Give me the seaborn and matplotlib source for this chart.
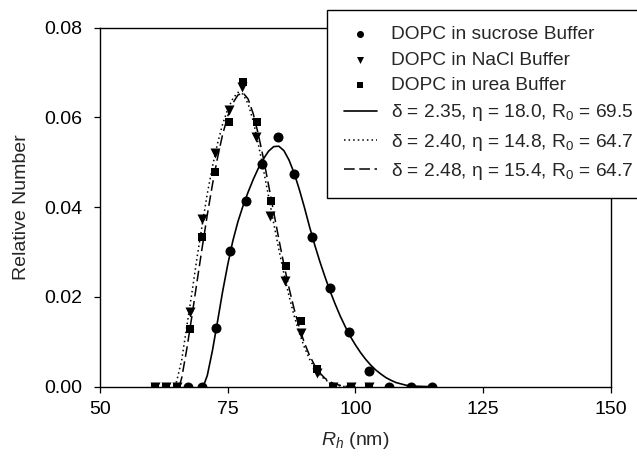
import matplotlib
matplotlib.use("Agg")
import matplotlib.pyplot as plt
from matplotlib.ticker import FormatStrFormatter
import seaborn as sns
import pandas as pd

#%%
# Measured points (R_h in nm, relative number)
x_sucrose = [67.3, 69.9, 72.7, 75.45, 78.5, 81.7, 84.8, 88.0, 91.5, 95.0, 98.7, 102.6, 106.6, 110.8, 115.0]
y_sucrose = [0, 0, 0.0131, 0.0302, 0.0414, 0.0496, 0.0556, 0.0474, 0.0333, 0.0219, 0.0121, 0.0035, 0, 0, 0]

x_nacl = [60.7, 62.9, 65.0, 67.6, 70.0, 72.6, 75.2, 77.8, 80.6, 83.3, 86.2, 89.4, 92.5, 95.7, 99.2, 102.7]
y_nacl = [0, 0, 0, 0.0166, 0.0373, 0.0520, 0.0617, 0.0668, 0.0556, 0.0380, 0.0235, 0.0120, 0.0030, 0, 0, 0]

x_urea = [60.7, 62.9, 65.0, 67.6, 70.0, 72.6, 75.2, 77.9, 80.7, 83.4, 86.4, 89.4, 92.5, 95.7, 99.2, 102.7]
y_urea = [0, 0, 0, 0.0129, 0.0333, 0.0479, 0.0590, 0.0678, 0.0590, 0.0414, 0.0268, 0.0146, 0.0040, 0, 0, 0]

#%%
# Fitted curves
fit_sucrose_x = [70.2, 71, 72, 73, 74, 75, 76, 77, 78, 79, 80, 81, 82, 83, 84, 85, 86, 87, 88, 89, 90,
                 91, 92, 93, 94, 95, 96, 97, 98, 99, 100, 101, 102, 103, 104, 105, 106, 107, 108, 109, 110, 112, 115]
fit_sucrose_y = [0, 0.0025, 0.0080, 0.0145, 0.0212, 0.0272, 0.0325, 0.0368, 0.0403, 0.0434, 0.0462, 0.0487,
                 0.0508, 0.0525, 0.0535, 0.0536, 0.0526, 0.0505, 0.0476, 0.0440, 0.0400, 0.0357, 0.0317, 0.0280,
                 0.0246, 0.0214, 0.0185, 0.0158, 0.0134, 0.0112, 0.0093, 0.0076, 0.0061, 0.0048, 0.0037, 0.0028,
                 0.0020, 0.0014, 0.0009, 0.0006, 0.0003, 0.0001, 0]

fit_nacl_x = [64.5, 65, 66, 67, 68, 69, 70, 71, 72, 73, 74, 75, 76, 77, 78, 79, 80, 81, 82, 83, 84, 85,
              86, 87, 88, 89, 90, 91, 92, 93, 94, 95, 96, 97, 98, 100]
fit_nacl_y = [0, 0.0012, 0.0060, 0.0135, 0.0210, 0.0288, 0.0360, 0.0430, 0.0490, 0.0542, 0.0585, 0.0618,
              0.0642, 0.0656, 0.0652, 0.0630, 0.0592, 0.0540, 0.0483, 0.0424, 0.0364, 0.0306, 0.0252, 0.0202,
              0.0158, 0.0120, 0.0088, 0.0062, 0.0042, 0.0027, 0.0016, 0.0009, 0.0004, 0.0002, 0, 0]

fit_urea_x = [65.5, 66, 67, 68, 69, 70, 71, 72, 73, 74, 75, 76, 77, 78, 79, 80, 81, 82, 83, 84, 85, 86,
              87, 88, 89, 90, 91, 92, 93, 94, 95, 96, 97, 98, 100]
fit_urea_y = [0, 0.0020, 0.0085, 0.0158, 0.0235, 0.0310, 0.0383, 0.0450, 0.0510, 0.0562, 0.0603, 0.0632,
              0.0650, 0.0655, 0.0641, 0.0608, 0.0562, 0.0508, 0.0449, 0.0389, 0.0329, 0.0272, 0.0220, 0.0173,
              0.0132, 0.0098, 0.0070, 0.0048, 0.0031, 0.0019, 0.0011, 0.0006, 0.0003, 0.0001, 0]

x_ticks = [50, 75, 100, 125, 150]
y_ticks = [0.00, 0.02, 0.04, 0.06, 0.08]

point_labels = ["DOPC in sucrose Buffer", "DOPC in NaCl Buffer", "DOPC in urea Buffer"]
fit_labels = [r"δ = 2.35, η = 18.0, R$_0$ = 69.5",
              r"δ = 2.40, η = 14.8, R$_0$ = 64.7",
              r"δ = 2.48, η = 15.4, R$_0$ = 64.7"]

#%%
sns.set_theme(style="ticks")
plt.rcParams["font.family"] = ["Liberation Sans", "DejaVu Sans"]
plt.rcParams["mathtext.fontset"] = "custom"
plt.rcParams["mathtext.rm"] = "Liberation Sans"
plt.rcParams["mathtext.it"] = "Liberation Sans:italic"

fig = plt.figure(figsize=(6.37, 4.62), dpi=100)
ax = fig.add_axes([0.157, 0.163, 0.802, 0.777])

pts = [(x_sucrose, y_sucrose, "o", 52), (x_nacl, y_nacl, "v", 52), (x_urea, y_urea, "s", 40)]
for (xs, ys, m, s), lab in zip(pts, point_labels):
    sns.scatterplot(x=xs, y=ys, marker=m, s=s, color="black", edgecolor="black",
                    linewidth=0, label=lab, ax=ax, zorder=3)

fits = [(fit_sucrose_x, fit_sucrose_y, "-", 1.2), (fit_nacl_x, fit_nacl_y, (0, (1, 2)), 1.1),
        (fit_urea_x, fit_urea_y, (0, (7, 3)), 1.1)]
for (xs, ys, ls, lw), lab in zip(fits, fit_labels):
    df = pd.DataFrame({"x": xs, "y": ys})
    sns.lineplot(data=df, x="x", y="y", color="black", linestyle=ls, linewidth=lw,
                 label=lab, ax=ax, zorder=2, sort=False)

ax.set_xlim(50, 150)
ax.set_ylim(0, 0.08)
ax.set_xticks(x_ticks)
ax.set_yticks(y_ticks)
ax.yaxis.set_major_formatter(FormatStrFormatter("%.2f"))
ax.tick_params(direction="out", length=4, width=0.9, colors="black", labelsize=14)
ax.tick_params(axis="y", pad=9)
ax.tick_params(axis="x", pad=6)
for sp in ax.spines.values():
    sp.set_visible(True)
    sp.set_linewidth(1.0)
    sp.set_color("black")

ax.set_xlabel(r"$R_h$ (nm)", fontsize=14, labelpad=9)
ax.set_ylabel("Relative Number", fontsize=14, labelpad=10)

leg = ax.legend(loc="upper left", bbox_to_anchor=(0.445, 1.05), borderaxespad=0,
                fontsize=13.8, frameon=True, fancybox=False, framealpha=1, edgecolor="black",
                handlelength=1.75, handletextpad=0.7, borderpad=0.85, labelspacing=0.42,
                markerscale=0.7)
leg.get_frame().set_linewidth(1.0)

fig.savefig("out.png", dpi=100)
